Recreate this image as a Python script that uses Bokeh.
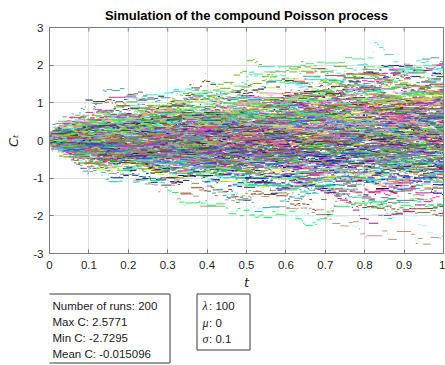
import numpy as np
from bokeh.plotting import figure
from bokeh.models import Range1d, FixedTicker, ColumnDataSource
from bokeh.layouts import column
from bokeh.embed import file_html
from bokeh.resources import INLINE
from bokeh.core.properties import value

# ---- chart values (as stated in the chart's annotations) ----
n_runs = 200
lam = 100
mu = 0.0
sigma = 0.1
T = 1.0
max_C = 2.5771
min_C = -2.7295
mean_C = -0.015096
t_of_max = 0.85   # highest step near t ~ 0.85
t_of_min = 0.98   # lowest step at the right edge

x_ticks = [0, 0.1, 0.2, 0.3, 0.4, 0.5, 0.6, 0.7, 0.8, 0.9, 1]
x_tick_labels = ["0", "0.1", "0.2", "0.3", "0.4", "0.5", "0.6", "0.7", "0.8", "0.9", "1"]
y_ticks = [-3, -2, -1, 0, 1, 2, 3]
y_tick_labels = ["-3", "-2", "-1", "0", "1", "2", "3"]

title_text = "Simulation of the compound Poisson process"
stats_lines = ["Number of runs: %d" % n_runs, "Max C: 2.5771", "Min C: -2.7295", "Mean C: -0.015096"]
param_symbols = ["\u03bb", "\u03bc", "\u03c3"]
param_values = [": 100", ": 0", ": 0.1"]

# ---- the paths: a Monte-Carlo simulation with the stated parameters ----
def simulate(seed):
    rng = np.random.default_rng(seed)
    counts = rng.poisson(lam * T, n_runs)
    runs = []
    for n in counts:
        times = np.sort(rng.uniform(0, T, n))
        vals = np.concatenate([[0.0], np.cumsum(rng.normal(mu, sigma, n))])
        knots = np.concatenate([[0.0], times, [T]])
        runs.append((knots, vals))
    cols = rng.random((n_runs, 3))
    return runs, cols

def score(runs):
    best_hi, best_lo, thi, tlo = -1e9, 1e9, 0, 0
    for knots, vals in runs:
        i = int(np.argmax(vals)); j = int(np.argmin(vals))
        if vals[i] > best_hi:
            best_hi, thi = vals[i], knots[i]
        if vals[j] < best_lo:
            best_lo, tlo = vals[j], knots[j]
    return abs(best_hi - max_C) + abs(best_lo - min_C) + 0.5 * abs(thi - t_of_max) + 0.5 * abs(tlo - t_of_min)

best = min(range(300), key=lambda s: score(simulate(s)[0]))
runs, cols = simulate(best)

xs, ys, colors = [], [], []
for (knots, vals), c in zip(runs, cols):
    nan = np.full(len(vals), np.nan)
    xs.append(np.column_stack([knots[:-1], knots[1:], nan]).ravel())
    ys.append(np.column_stack([vals, vals, nan]).ravel())
    colors.append("#%02x%02x%02x" % tuple(int(v * 255) for v in c))
src = ColumnDataSource(dict(xs=xs, ys=ys, color=colors))

AX = "#7a7a7a"
TXT = "#262626"
FONT = "Liberation Sans"

p = figure(width=445, height=292, x_range=Range1d(0, 1), y_range=Range1d(-3, 3),
           output_backend="svg", toolbar_location=None,
           min_border_left=49, min_border_right=2, min_border_top=26, min_border_bottom=38)
p.multi_line(xs="xs", ys="ys", line_color="color", line_width=1, source=src)

# inward ticks on the top and right edges (half of each dash is clipped by the frame)
p.scatter(x=x_ticks, y=[y_ticks[-1]] * len(x_ticks), marker="dash", angle=np.pi / 2,
          size=8, line_color=AX, line_width=1)
p.scatter(x=[x_ticks[-1]] * len(y_ticks), y=y_ticks, marker="dash",
          size=8, line_color=AX, line_width=1)

p.title.text = title_text
p.title.align = "center"
p.title.text_font = FONT
p.title.text_font_size = "13px"
p.title.text_font_style = "bold"
p.title.text_color = "#000000"

def style_axis(ax, ticks, labels):
    ax.ticker = FixedTicker(ticks=ticks)
    ax.major_label_overrides = {t: l for t, l in zip(ticks, labels)}
    ax.major_tick_in = 4
    ax.major_tick_out = 0
    ax.minor_tick_line_color = None
    ax.axis_line_color = AX
    ax.major_tick_line_color = AX
    ax.major_label_text_font = FONT
    ax.major_label_text_color = TXT
    ax.major_label_text_font_size = "11.5px"

style_axis(p.xaxis[0], x_ticks, x_tick_labels)
style_axis(p.yaxis[0], y_ticks, y_tick_labels)
p.xaxis.major_label_standoff = 7
p.yaxis.major_label_standoff = 6
p.xaxis.axis_label = "t"
p.xaxis.axis_label_standoff = 3
p.yaxis.axis_label = "C\u209c"
p.yaxis.axis_label_standoff = 9
for ax in (p.xaxis[0], p.yaxis[0]):
    ax.axis_label_text_font = "DejaVu Sans"
    ax.axis_label_text_font_style = "italic"
    ax.axis_label_text_font_size = "13px"
    ax.axis_label_text_color = TXT

p.xgrid.ticker = FixedTicker(ticks=x_ticks)
p.ygrid.ticker = FixedTicker(ticks=y_ticks)
p.grid.grid_line_color = "#dfdfdf"
p.outline_line_color = AX
p.background_fill_color = "white"
p.border_fill_color = "white"

# ---- annotation boxes below the axes (x range set so that units equal page pixels) ----
q = figure(width=445, height=73, x_range=Range1d(49, 443), y_range=Range1d(73, 0),
           output_backend="svg", toolbar_location=None, x_axis_type=None, y_axis_type=None,
           min_border_left=0, min_border_right=0, min_border_top=0, min_border_bottom=0)
q.grid.visible = False
q.outline_line_color = None
q.quad(left=[43.5, 196.5], right=[169.5, 249.5], top=[1.5, 1.5], bottom=[70.5, 57.5],
       fill_color="white", line_color="#3a3a3a", line_width=1)
q.text(x=[52] * 4, y=[13.5, 29.5, 45.5, 61], text=stats_lines, text_baseline="middle",
       text_font=value(FONT), text_font_size="11.5px", text_color="#1a1a1a")
q.text(x=[202] * 3, y=[13.5, 30, 46.5], text=param_symbols, text_baseline="middle",
       text_font=value("Liberation Serif"), text_font_style="italic", text_font_size="12px",
       text_color="#1a1a1a")
q.text(x=[208.5] * 3, y=[13.5, 30, 46.5], text=param_values, text_baseline="middle",
       text_font=value(FONT), text_font_size="11.5px", text_color="#1a1a1a")

layout = column(p, q, spacing=0)
open("out.html", "w").write(file_html(layout, INLINE))
